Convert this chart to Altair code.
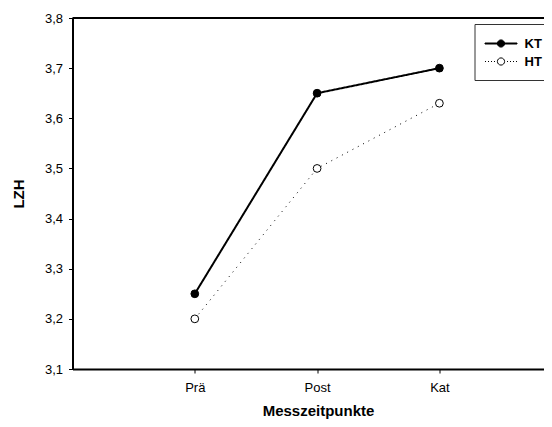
import json
import altair as alt
import pandas as pd

# ---- data ----
phases = ["Prä", "Post", "Kat"]
series_names = ["KT", "HT"]
kt_values = [3.25, 3.65, 3.70]
ht_values = [3.20, 3.50, 3.63]
y_ticks = [3.1, 3.2, 3.3, 3.4, 3.5, 3.6, 3.7, 3.8]

rows = []
for s, vals in zip(series_names, [kt_values, ht_values]):
    for i, (p, v) in enumerate(zip(phases, vals)):
        rows.append({"Messzeitpunkt": p, "pos": i + 1, "Gruppe": s, "LZH": v})
df = pd.DataFrame(rows)

# ---- geometry ----
W = 471.5
H = 351
STEP = 122.3
XMAX = W / STEP
FONT = "Liberation Sans"

label_list = json.dumps([""] + phases, ensure_ascii=False)

x_enc = alt.X(
    "pos:Q",
    scale=alt.Scale(domain=[0, XMAX], nice=False, zero=False),
    axis=alt.Axis(
        values=[1, 2, 3],
        labelExpr=f"{label_list}[datum.value]",
        title="Messzeitpunkte",
        titleX=245.5,
        titleY=46.5,
        titleAlign="center",
        titleBaseline="alphabetic",
        labelPadding=8,
    ),
)
y_enc = alt.Y(
    "LZH:Q",
    scale=alt.Scale(domain=[3.1, 3.8], nice=False, zero=False),
    axis=alt.Axis(
        values=y_ticks,
        labelExpr="replace(format(datum.value, '.1f'), '.', ',')",
        title="LZH",
        titleX=-54.5,
        titleY=175.5,
        titleAngle=270,
        titleAlign="center",
        titleBaseline="middle",
        labelPadding=6,
    ),
)

base = alt.Chart(df)

# styling scales for the plotted marks (no legend); domain listed in
# reverse order so they are not merged with the visible legend
style_domain = series_names[::-1]

lines = base.mark_line(color="black").encode(
    x=x_enc,
    y=y_enc,
    detail="Gruppe:N",
    order="pos:Q",
    strokeDash=alt.StrokeDash(
        "Gruppe:N",
        scale=alt.Scale(domain=style_domain, range=[[1, 5], [1, 0]]),
        legend=None,
    ),
    strokeWidth=alt.StrokeWidth(
        "Gruppe:N",
        scale=alt.Scale(domain=style_domain, range=[1, 2]),
        legend=None,
    ),
)

points = base.mark_point(
    shape="circle", size=60, filled=True, stroke="black", strokeWidth=1, opacity=1
).encode(
    x=x_enc,
    y=y_enc,
    color=alt.Color(
        "Gruppe:N",
        scale=alt.Scale(domain=style_domain, range=["white", "black"]),
        legend=None,
    ),
)

# legend symbols: line with a circle marker (custom paths)
kt_path = (
    "M-1.125,-0.0625H2.875V0.0625H-1.125Z"
    "M0.425,0A0.45,0.45,0,1,1,1.325,0A0.45,0.45,0,1,1,0.425,0Z"
)
dots = [-1.125, -0.75, -0.375, 0.0, 1.625, 2.0, 2.375, 2.75]
ht_path = "".join(f"M{d},0h0.125" for d in dots) + (
    "M0.425,0A0.45,0.45,0,1,1,1.325,0A0.45,0.45,0,1,1,0.425,0Z"
)

legend_def = dict(
    orient="none",
    legendX=402,
    legendY=6,
    title=None,
    padding=11,
    strokeColor="#333333",
    fillColor="white",
    symbolSize=256,
    symbolStrokeWidth=1,
    symbolStrokeColor="black",
    symbolOpacity=1,
    labelOffset=22,
    labelFont=FONT,
    labelFontWeight="bold",
    labelFontSize=13,
    labelColor="black",
    rowPadding=2,
)

legend_layer = base.mark_point(strokeWidth=1, opacity=0).encode(
    x=x_enc,
    y=y_enc,
    fill=alt.Fill(
        "Gruppe:N",
        scale=alt.Scale(domain=series_names, range=["black", "white"]),
        legend=alt.Legend(**legend_def),
    ),
    stroke=alt.Stroke(
        "Gruppe:N",
        scale=alt.Scale(domain=series_names, range=["black", "black"]),
        legend=alt.Legend(**legend_def),
    ),
    shape=alt.Shape(
        "Gruppe:N",
        scale=alt.Scale(domain=series_names, range=[kt_path, ht_path]),
        legend=alt.Legend(**legend_def),
    ),
)

top_line = alt.Chart(pd.DataFrame({"a": [0]})).mark_rule(
    color="black", strokeWidth=2
).encode(
    x=alt.datum(0),
    x2=alt.datum(XMAX),
    y=alt.datum(3.8),
)

chart = (
    alt.layer(top_line, lines, points, legend_layer)
    .properties(
        width=W,
        height=H,
        autosize=alt.AutoSizeParams(type="none"),
        padding={"left": 64.5, "top": 10, "right": 0, "bottom": 50},
    )
    .configure_view(stroke=None)
    .configure_axis(
        grid=False,
        domainColor="black",
        domainWidth=2,
        tickColor="black",
        tickWidth=1,
        tickSize=4,
        labelFont=FONT,
        labelFontSize=13,
        labelColor="black",
        titleFont=FONT,
        titleFontSize=15,
        titleFontWeight="bold",
        titleColor="black",
    )
)

chart.save("out.html", embed_options={"renderer": "svg", "actions": False})
